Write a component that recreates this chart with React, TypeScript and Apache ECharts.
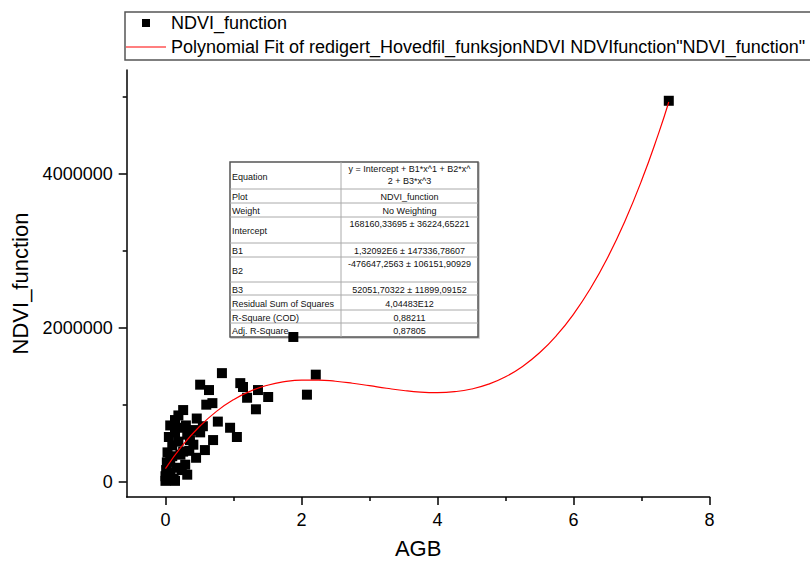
import { useEffect, useRef } from "react";
import * as echarts from "echarts";

// ---- data ----
const agb = [
  0.83, 0.51, 0.64, 1.1, 1.14, 1.2, 1.36, 1.51, 1.33, 2.08, 2.21, 1.88, 0.6, 0.69, 0.77, 0.95, 1.05,
  0.7, 0.58, 0.26, 0.14, 0.29, 0.07, 0.41, 0.41, 0.26, 7.4, 0.0, 0.04, 0.14, 0.01, 0.07, 0.03, 0.1,
  0.05, 0.14, 0.07, 0.19, 0.22, 0.16, 0.32, 0.36, 0.3, 0.46, 0.51, 0.45, 0.19, 0.0, 0.02, 0.32, 0.24,
  0.1, 0.2, 0.55, 0.35, 0.12, 0.05,
];
const ndvi = [
  1410000, 1260000, 1190000, 1280000, 1230000, 1090000, 1190000, 1100000, 940000, 1130000, 1390000,
  1880000, 1000000, 1020000, 780000, 700000, 580000, 540000, 410000, 930000, 800000, 220000, 60000,
  670000, 480000, 390000, 4950000, 10000, 30000, 10000, 150000, 260000, 380000, 470000, 580000,
  640000, 730000, 520000, 350000, 180000, 90000, 540000, 730000, 820000, 640000, 310000, 860000,
  70000, 250000, 610000, 150000, 330000, 700000, 720000, 400000, 40000, 120000,
];
const fitX = [
  0, 0.25, 0.5, 0.75, 1, 1.25, 1.5, 1.75, 2, 2.25, 2.5, 2.75, 3, 3.25, 3.5, 3.75, 4, 4.25, 4.5, 4.75,
  5, 5.25, 5.5, 5.75, 6, 6.25, 6.5, 6.75, 7, 7.25, 7.4,
];
const fitY = [
  168160, 469413, 715964, 912695, 1064485, 1176213, 1252758, 1299004, 1319826, 1320106, 1304724,
  1278560, 1246493, 1213396, 1184171, 1163664, 1156797, 1168434, 1203409, 1266660, 1363048, 1497447,
  1674749, 1899806, 2177555, 2512823, 2910502, 3375480, 3912630, 4526830, 4934176,
];
const xLabelTicks = [0, 2, 4, 6, 8];
const xMinorTicks = [1, 3, 5, 7];
const yLabelTicks = [0, 2000000, 4000000];
const yMinorTicks = [1000000, 3000000, 5000000];

const scatterName = "NDVI_function";
const fitName = 'Polynomial Fit of redigert_Hovedfil_funksjonNDVI NDVIfunction"NDVI_function"';

const tableLabels = [
  "Equation", "Plot", "Weight", "Intercept", "B1", "B2", "B3",
  "Residual Sum of Squares", "R-Square (COD)", "Adj. R-Square",
];
const tableValues = [
  "y = Intercept + B1*x^1 + B2*x^\n2 + B3*x^3",
  "NDVI_function",
  "No Weighting",
  "168160,33695 ± 36224,65221",
  "1,32092E6 ± 147336,78607",
  "-476647,2563 ± 106151,90929",
  "52051,70322 ± 11899,09152",
  "4,04483E12",
  "0,88211",
  "0,87805",
];

// ---- layout (not data) ----
const FONT = "'Liberation Sans', Arial, sans-serif";
const rowEdges = [162, 189, 203, 217, 243, 257, 282, 295, 310, 323, 337];
const tableLeft = 230;
const tableRight = 478;
const tableDivider = 341;
const topAlignedRows = [0, 3, 5];

function buildTable() {
  const children: any[] = [];
  children.push({
    type: "rect",
    shape: { x: tableLeft, y: rowEdges[0], width: tableRight - tableLeft, height: rowEdges[rowEdges.length - 1] - rowEdges[0] },
    style: { fill: "#fff", stroke: "#555", lineWidth: 1.5, shadowColor: "rgba(0,0,0,0.25)", shadowOffsetX: 1, shadowOffsetY: 1, shadowBlur: 1 },
  });
  for (let i = 1; i < rowEdges.length - 1; i++) {
    children.push({
      type: "line",
      shape: { x1: tableLeft, y1: rowEdges[i], x2: tableRight, y2: rowEdges[i] },
      style: { stroke: "#aaa", lineWidth: 1 },
    });
  }
  children.push({
    type: "line",
    shape: { x1: tableDivider, y1: rowEdges[0], x2: tableDivider, y2: rowEdges[rowEdges.length - 1] },
    style: { stroke: "#aaa", lineWidth: 1 },
  });
  tableLabels.forEach((lab, i) => {
    const top = rowEdges[i];
    const bot = rowEdges[i + 1];
    children.push({
      type: "text",
      style: { x: tableLeft + 2, y: (top + bot) / 2 + 1, text: lab, fontSize: 9, fontFamily: FONT, fill: "#111", verticalAlign: "middle", align: "left" },
    });
    const topAligned = topAlignedRows.includes(i);
    children.push({
      type: "text",
      style: {
        x: (tableDivider + tableRight) / 2,
        y: topAligned ? top + 1 : (top + bot) / 2 + 1,
        text: tableValues[i],
        fontSize: 9,
        lineHeight: 12,
        fontFamily: FONT,
        fill: "#111",
        verticalAlign: topAligned ? "top" : "middle",
        align: "center",
      },
    });
  });
  return { type: "group", z: 100, children };
}

export default function App() {
  const ref = useRef<HTMLDivElement>(null);
  useEffect(() => {
    document.body.style.margin = "0";
    const chart = echarts.init(ref.current!, null, { renderer: "svg" });
    const xMin = -0.57;
    const xMax = 8;
    const yMin = -200000;
    const yMax = 5350000;
    const axisLineStyle = { color: "#000", width: 1.5 };
    chart.setOption({
      animation: false,
      backgroundColor: "#fff",
      grid: { left: 126.7, right: 100.4, top: 70, bottom: 66, containLabel: false, outerBoundsMode: "none" },
      legend: {
        orient: "vertical",
        left: 125,
        top: 12,
        padding: [1, 40, 3, 1],
        borderColor: "#555",
        borderWidth: 1.5,
        borderRadius: 0,
        itemWidth: 40,
        itemHeight: 8,
        itemGap: 4,
        symbolKeepAspect: true,
        textStyle: { fontSize: 18, color: "#000", fontFamily: FONT, lineHeight: 20 },
        data: [
          { name: scatterName, icon: "path://M0,0 L10,0 L10,10 L0,10 Z" },
          { name: fitName, icon: "path://M0,0 L40,0 L40,1.2 L0,1.2 Z" },
        ],
      },
      xAxis: [
        {
          type: "value",
          min: xMin,
          max: xMax,
          name: "AGB",
          nameLocation: "middle",
          nameGap: 40,
          nameTextStyle: { fontSize: 22, color: "#000", fontFamily: FONT },
          axisLine: { show: true, onZero: false, lineStyle: axisLineStyle },
          axisTick: { show: true, inside: false, length: 8, customValues: xLabelTicks, lineStyle: { color: "#000", width: 1.5 } },
          axisLabel: { show: true, customValues: xLabelTicks, fontSize: 18, color: "#000", fontFamily: FONT, margin: 14, formatter: (v: number) => String(v) },
          splitLine: { show: false },
        },
        {
          type: "value",
          min: xMin,
          max: xMax,
          position: "bottom",
          axisLine: { show: false, onZero: false },
          axisTick: { show: true, inside: false, length: 4, customValues: xMinorTicks, lineStyle: { color: "#000", width: 1.5 } },
          axisLabel: { show: false },
          splitLine: { show: false },
        },
      ],
      yAxis: [
        {
          type: "value",
          min: yMin,
          max: yMax,
          name: "NDVI_function",
          nameLocation: "middle",
          nameGap: 92,
          nameRotate: 90,
          nameTextStyle: { fontSize: 22, color: "#000", fontFamily: FONT },
          axisLine: { show: true, onZero: false, lineStyle: axisLineStyle },
          axisTick: { show: true, inside: false, length: 8, customValues: yLabelTicks, lineStyle: { color: "#000", width: 1.5 } },
          axisLabel: { show: true, customValues: yLabelTicks, fontSize: 18, color: "#000", fontFamily: FONT, margin: 14, formatter: (v: number) => String(v) },
          splitLine: { show: false },
        },
        {
          type: "value",
          min: yMin,
          max: yMax,
          position: "left",
          offset: 0,
          axisLine: { show: false, onZero: false },
          axisTick: { show: true, inside: false, length: 4, customValues: yMinorTicks, lineStyle: { color: "#000", width: 1.5 } },
          axisLabel: { show: false },
          splitLine: { show: false },
        },
      ],
      series: [
        {
          name: scatterName,
          type: "scatter",
          symbol: "rect",
          symbolSize: 10,
          itemStyle: { color: "#000", opacity: 1 },
          data: agb.map((x, i) => [x, ndvi[i]]),
          z: 2,
        },
        {
          name: fitName,
          type: "line",
          symbol: "none",
          showSymbol: false,
          smooth: true,
          lineStyle: { color: "#ff0000", width: 1.2 },
          itemStyle: { color: "#ff0000" },
          data: fitX.map((x, i) => [x, fitY[i]]),
          z: 3,
        },
      ],
      graphic: [buildTable()],
    });
    return () => chart.dispose();
  }, []);
  return <div ref={ref} style={{ position: "fixed", left: 0, top: 0, width: 810, height: 563 }} />;
}
